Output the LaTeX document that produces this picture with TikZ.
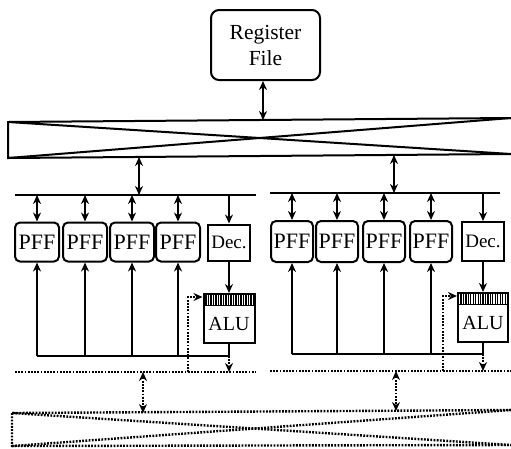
\documentclass[tikz,border=0pt]{standalone}
\usepackage{fontspec}
\setmainfont{Liberation Serif}
\usetikzlibrary{arrows.meta}
\begin{document}
\begin{tikzpicture}[x=1pt,y=-1pt,
  ln/.style={line width=2pt},
  arr/.style={ln,-{Stealth[length=9pt,width=8pt]}},
  darr/.style={ln,{Stealth[length=9pt,width=8pt]}-{Stealth[length=9pt,width=8pt]}},
  dt/.style={line width=2.4pt,dash pattern=on 1.8pt off 1.4pt},
  dtarr/.style={dt,-{Stealth[length=9pt,width=8pt]}},
  dtdarr/.style={dt,{Stealth[length=9pt,width=8pt]}-{Stealth[length=9pt,width=8pt]}},
  pff/.style={draw,ln,rounded corners=5pt,minimum width=44pt,minimum height=39pt,inner sep=0pt,font=\fontsize{22}{22}\selectfont},
  decbox/.style={draw,ln,minimum width=42pt,minimum height=36pt,inner sep=0pt,font=\fontsize{19}{19}\selectfont},
  alubox/.style={draw,ln,minimum width=51pt,minimum height=49pt,inner sep=0pt},
  alutxt/.style={inner sep=0pt,font=\fontsize{20}{20}\selectfont},
  regbox/.style={draw,ln,rounded corners=8pt,minimum width=109pt,minimum height=70pt,align=center,inner sep=0pt,font=\fontsize{21.5}{26}\selectfont}
]
\useasboundingbox (0,0) rectangle (511,448);
% register file
\node[regbox] (reg) at (265.5,45) {Register\\File};
% top crossbar
\coordinate (xtl) at (8,122);
\coordinate (xtr) at (511,118);
\coordinate (xbl) at (8,158);
\coordinate (xbr) at (511,154);
\draw[ln] (xtr) -- (xtl) -- (xbl) -- (xbr);
\draw[ln] (xtl) -- (xbr);
\draw[ln] (xbl) -- (xtr);
\coordinate (xin) at (263,120);
\draw[darr] (reg.south -| xin) -- (xin);
% buses
\coordinate (busLa) at (15,195);
\coordinate (busLb) at (256,195);
\coordinate (busRa) at (270,193);
\coordinate (busRb) at (500,193);
\draw[line width=2.6pt] (busLa) -- (busLb);
\draw[line width=2.6pt] (busRa) -- (busRb);
\coordinate (xoL) at (139,157);
\coordinate (xoR) at (394,155);
\draw[darr] (xoL) -- (xoL |- busLa);
\draw[darr] (xoR) -- (xoR |- busRa);
% left cluster
\node[pff] (pL1) at (37,242) {PFF};
\node[pff] (pL2) at (85,242) {PFF};
\node[pff] (pL3) at (132,242) {PFF};
\node[pff] (pL4) at (178,242) {PFF};
\node[decbox] (dL) at (229,242.5) {Dec.};
\node[alubox] (aL) at (229,318.5) {};
\node[alutxt] (aLt) at (229,324) {ALU};
% right cluster
\node[pff,minimum width=42pt,minimum height=41pt] (pR1) at (292,241.5) {PFF};
\node[pff,minimum width=42pt,minimum height=41pt] (pR2) at (337,241.5) {PFF};
\node[pff,minimum width=42pt,minimum height=41pt] (pR3) at (384,241.5) {PFF};
\node[pff,minimum width=42pt,minimum height=41pt] (pR4) at (431,241.5) {PFF};
\node[decbox,minimum height=39pt] (dR) at (483,241.5) {Dec.};
\node[alubox,minimum width=50pt] (aR) at (483,317.5) {};
\node[alutxt] (aRt) at (483,323) {ALU};
% ALU headers
\draw[line width=1pt] (204,305) -- (254,305);
\draw[line width=1pt] (459,304) -- (508,304);
\foreach \i in {0,...,19}{
  \draw[line width=1.2pt] (206+\i*2.5,295) -- ++(0,10);
  \draw[line width=1.2pt] (461+\i*2.45,294) -- ++(0,10);
}
% bus to nodes
\foreach \n in {pL1,pL2,pL3,pL4}{
  \draw[darr] (\n.north |- busLa) -- (\n.north);
}
\foreach \n in {pR1,pR2,pR3,pR4}{
  \draw[darr] (\n.north |- busRa) -- (\n.north);
}
\draw[arr] (dL.north |- busLa) -- (dL.north);
\draw[arr] (dR.north |- busRa) -- (dR.north);
\draw[arr] (dL.south) -- (aL.north);
\draw[arr] (dR.south) -- (aR.north);
% feedback lines
\coordinate (fbL) at (37,356);
\coordinate (fbR) at (292,354);
\draw[ln] (aL.south) -- (aL.south |- fbL) -- (fbL);
\draw[ln] (aR.south) -- (aR.south |- fbR) -- (fbR);
\foreach \n in {pL1,pL2,pL3,pL4}{
  \draw[arr] (\n.south |- fbL) -- (\n.south);
}
\foreach \n in {pR1,pR2,pR3,pR4}{
  \draw[arr] (\n.south |- fbR) -- (\n.south);
}
% dotted buses
\coordinate (dbLa) at (15,372);
\coordinate (dbLb) at (256,372);
\coordinate (dbRa) at (270,371);
\coordinate (dbRb) at (511,371);
\draw[dt] (dbLa) -- (dbLb);
\draw[dt] (dbRa) -- (dbRb);
\draw[dtarr] (aL.south |- fbL) -- (aL.south |- dbLa);
\draw[dtarr] (aR.south |- fbR) -- (aR.south |- dbRa);
% dotted ALU inputs
\coordinate (inL) at (188,297);
\coordinate (inR) at (443,296);
\draw[dtarr] (inL |- dbLa) -- (inL) -- (inL -| aL.west);
\draw[dtarr] (inR |- dbRa) -- (inR) -- (inR -| aR.west);
% lower dotted crossbar
\coordinate (ytl) at (12,413);
\coordinate (ytr) at (511,410);
\coordinate (ybl) at (12,446);
\coordinate (ybr) at (511,445);
\draw[dt] (ytr) -- (ytl) -- (ybl) -- (ybr);
\draw[dt] (ytl) -- (ybr);
\draw[dt] (ybl) -- (ytr);
\coordinate (yiL) at (143,413);
\coordinate (yiR) at (396,411);
\draw[dtdarr] (yiL |- dbLa) -- (yiL);
\draw[dtdarr] (yiR |- dbRa) -- (yiR);
\end{tikzpicture}
\end{document}
